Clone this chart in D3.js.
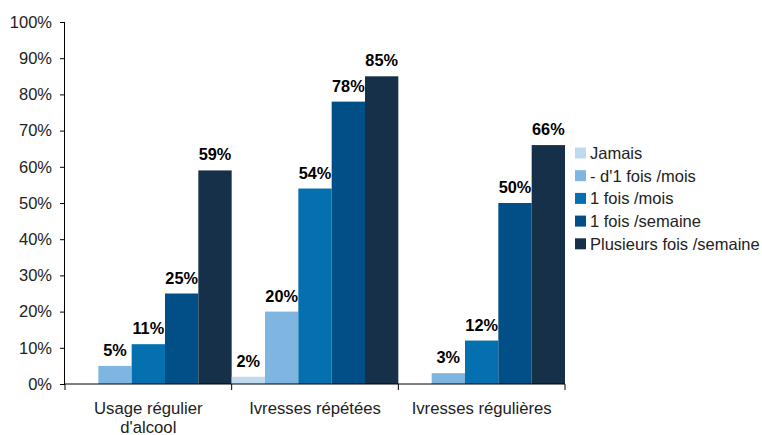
<!DOCTYPE html>
<html><head><meta charset="utf-8">
<script src="https://cdn.jsdelivr.net/npm/d3@7"></script>
<style>body{margin:0;background:#fff}svg{display:block}text{font-family:"Liberation Sans",Arial,sans-serif}</style>
</head><body>
<script>
const categories = ["Usage régulier\nd'alcool", "Ivresses répétées", "Ivresses régulières"];
const seriesNames = ["Jamais", "- d'1 fois /mois", "1 fois /mois", "1 fois /semaine", "Plusieurs fois /semaine"];
const seriesColors = ["#bfd9ee", "#7eb6e1", "#0570b0", "#024e86", "#173049"];
const values = [
  [0, 5, 11, 25, 59],
  [2, 20, 54, 78, 85],
  [0, 3, 12, 50, 66]
];
const yTicks = [0, 10, 20, 30, 40, 50, 60, 70, 80, 90, 100];

const W = 762, H = 435;
const m = {left: 65, right: 197, top: 22, bottom: 51};
const svg = d3.select("body").append("svg").attr("width", W).attr("height", H);

const x0 = d3.scaleBand().domain(d3.range(categories.length)).range([m.left, W - m.right]).padding(0);
const x1 = d3.scaleBand().domain(d3.range(seriesNames.length)).range([0, x0.bandwidth()]).padding(0);
const y = d3.scaleLinear().domain([0, 100]).range([H - m.bottom, m.top]);

// bars
const g = svg.append("g");
values.forEach((row, ci) => {
  row.forEach((v, si) => {
    if (v > 0) {
      g.append("rect")
        .attr("x", x0(ci) + x1(si))
        .attr("y", y(v))
        .attr("width", x1.bandwidth())
        .attr("height", y(0) - y(v))
        .attr("fill", seriesColors[si]);
      g.append("text")
        .attr("x", x0(ci) + x1(si) + x1.bandwidth() / 2)
        .attr("y", y(v) - 10)
        .attr("text-anchor", "middle")
        .attr("font-size", 16.3).attr("font-weight", "bold").attr("fill", "#000")
        .text(v + "%");
    }
  });
});

// y axis
const yAxis = d3.axisLeft(y).tickValues(yTicks).tickFormat(d => d + "%").tickSize(5).tickPadding(8);
const ya = svg.append("g").attr("transform", `translate(${m.left},0)`).call(yAxis);
ya.select(".domain").attr("stroke", "#000").attr("d", `M-0.5,${y(0)}V${y(100)}`);
ya.selectAll(".tick line").attr("stroke", "#000");
ya.selectAll(".tick text").attr("font-size", 16.5).attr("fill", "#222").attr("font-family", '"Liberation Sans",Arial,sans-serif');

// x axis
const xa = svg.append("g").attr("transform", `translate(0,${y(0)})`);
xa.append("line").attr("x1", m.left).attr("x2", W - m.right).attr("stroke", "#000");
const bounds = d3.range(categories.length + 1).map(i => i < categories.length ? x0(i) : x0(i - 1) + x0.bandwidth());
bounds.forEach(b => xa.append("line").attr("x1", b).attr("x2", b).attr("y1", 0).attr("y2", 6).attr("stroke", "#000"));
categories.forEach((c, ci) => {
  const t = xa.append("text").attr("x", x0(ci) + x0.bandwidth() / 2).attr("y", 30)
    .attr("text-anchor", "middle").attr("font-size", 16.7).attr("fill", "#222");
  c.split("\n").forEach((line, li) => {
    t.append("tspan").attr("x", x0(ci) + x0.bandwidth() / 2).attr("dy", li === 0 ? 0 : 18.5).text(line);
  });
});

// legend
const lg = svg.append("g").attr("transform", "translate(575,153)");
seriesNames.forEach((s, i) => {
  const row = lg.append("g").attr("transform", `translate(0,${i * 22.7})`);
  row.append("rect").attr("x", 0).attr("y", -5.5).attr("width", 11).attr("height", 11).attr("fill", seriesColors[i]);
  row.append("text").attr("x", 15).attr("y", 6).attr("font-size", 16.5).attr("fill", "#222").text(s);
});
</script>
</body></html>
